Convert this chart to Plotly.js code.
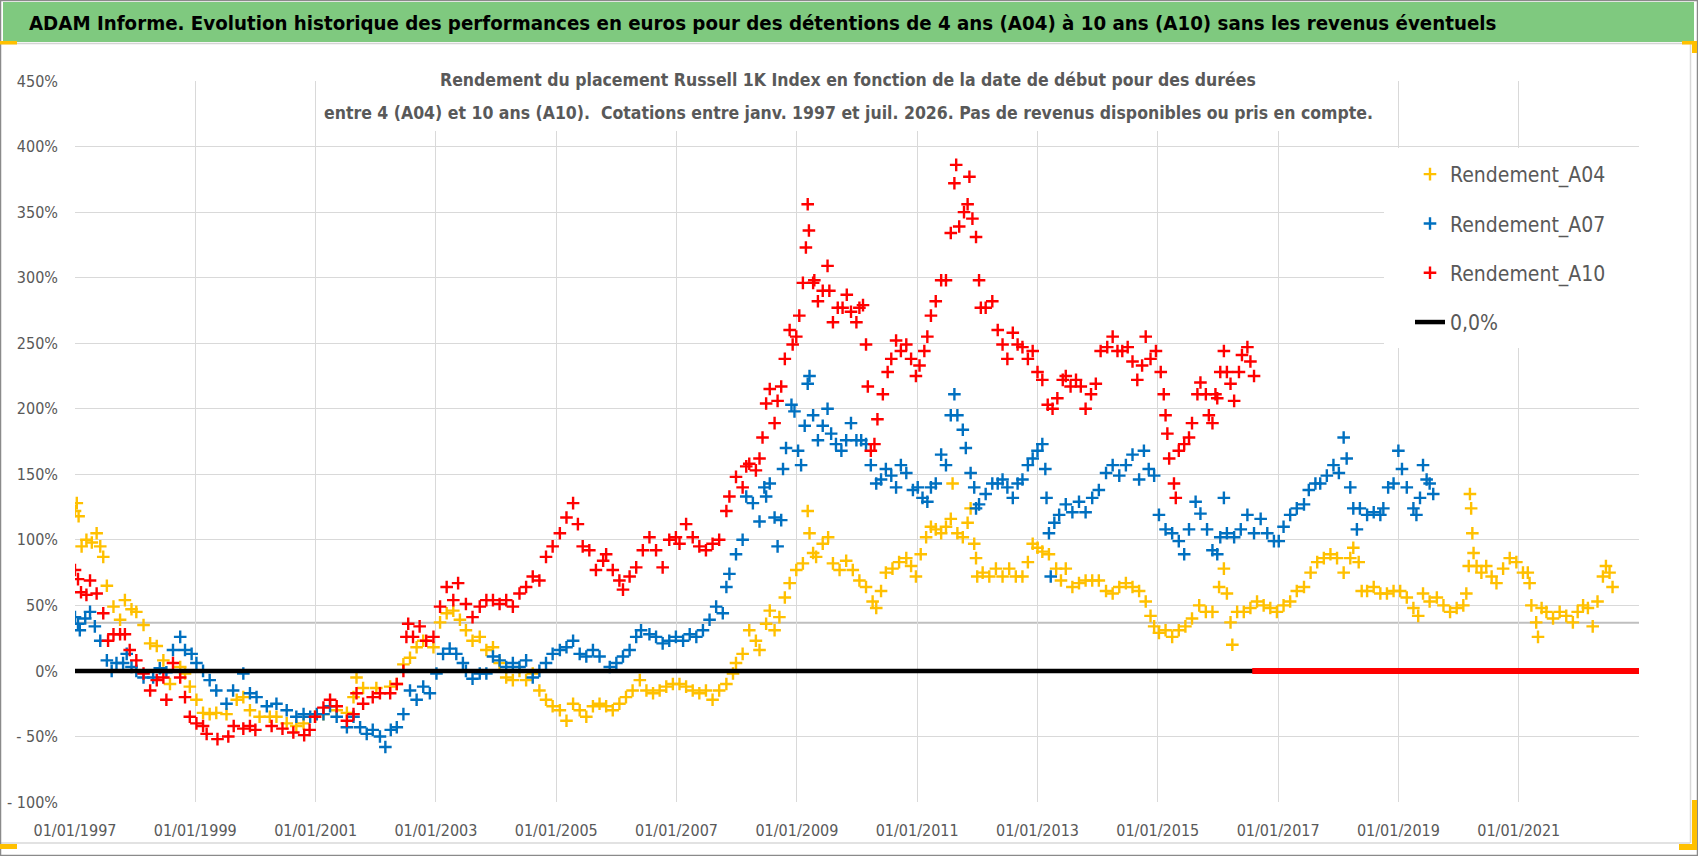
<!DOCTYPE html>
<html>
<head>
<meta charset="utf-8">
<script src="https://cdn.plot.ly/plotly-3.0.1.min.js"></script>
<style>
  html, body { margin: 0; padding: 0; background: #ffffff; }
  #chart { width: 1698px; height: 856px; }
</style>
</head>
<body>
<div id="chart"></div>
<script>
// ---------------- DATA (decimal year, return in %) ----------------
const seriesNames = ['Rendement_A04', 'Rendement_A07', 'Rendement_A10', '0,0%'];

const A04 = [[1997.00,122],[1997.03,128],[1997.06,118],[1997.11,95],[1997.19,100],[1997.28,98],[1997.36,105],[1997.42,95],[1997.47,87],[1997.53,65],[1997.64,49],[1997.75,39],[1997.83,54],[1997.94,47],[1998.02,45],[1998.14,35],[1998.25,21],[1998.36,19],[1998.47,8],[1998.58,-10],[1998.75,3],[1998.83,-2],[1998.91,-12],[1999.02,-22],[1999.13,-32],[1999.24,-33],[1999.35,-32],[1999.52,-33],[1999.69,-22],[1999.80,-20],[1999.91,-30],[2000.07,-35],[2000.24,-35],[2000.35,-35],[2000.52,-40],[2000.68,-42],[2000.80,-40],[2000.99,-35],[2001.13,-33],[2001.35,-30],[2001.52,-32],[2001.63,-20],[2001.68,-5],[2001.79,-13],[2002.01,-13],[2002.24,-12],[2002.35,-10],[2002.46,5],[2002.57,10],[2002.68,18],[2002.79,23],[2002.96,18],[2003.07,37],[2003.18,44],[2003.29,46],[2003.40,39],[2003.50,31],[2003.61,23],[2003.73,26],[2003.84,16],[2003.95,18],[2004.06,6],[2004.17,-5],[2004.28,-7],[2004.39,0],[2004.50,-7],[2004.61,-2],[2004.72,-15],[2004.83,-22],[2004.94,-27],[2005.06,-30],[2005.17,-38],[2005.28,-25],[2005.39,-30],[2005.50,-35],[2005.61,-27],[2005.72,-25],[2005.83,-27],[2005.94,-30],[2006.05,-25],[2006.16,-20],[2006.27,-15],[2006.39,-7],[2006.50,-15],[2006.61,-17],[2006.72,-15],[2006.83,-12],[2006.94,-10],[2007.05,-10],[2007.16,-12],[2007.27,-15],[2007.38,-17],[2007.49,-15],[2007.60,-22],[2007.71,-15],[2007.83,-10],[2007.94,-2],[2007.99,6],[2008.10,13],[2008.21,31],[2008.32,23],[2008.38,16],[2008.49,36],[2008.55,46],[2008.63,31],[2008.71,41],[2008.80,56],[2008.88,67],[2008.99,77],[2009.10,82],[2009.18,122],[2009.21,105],[2009.27,90],[2009.32,87],[2009.43,97],[2009.52,102],[2009.60,82],[2009.71,77],[2009.82,84],[2009.93,77],[2010.04,69],[2010.15,64],[2010.26,53],[2010.32,48],[2010.40,61],[2010.48,75],[2010.59,78],[2010.70,83],[2010.82,86],[2010.90,80],[2010.98,72],[2011.06,89],[2011.15,102],[2011.23,110],[2011.31,108],[2011.40,105],[2011.48,110],[2011.56,116],[2011.59,143],[2011.67,105],[2011.76,102],[2011.84,113],[2011.89,124],[2011.95,97],[2011.98,86],[2012.00,72],[2012.09,75],[2012.20,72],[2012.31,78],[2012.42,72],[2012.53,78],[2012.64,72],[2012.75,72],[2012.84,83],[2012.92,97],[2013.00,94],[2013.08,91],[2013.19,89],[2013.31,78],[2013.39,69],[2013.47,78],[2013.58,64],[2013.69,67],[2013.80,69],[2013.91,69],[2014.02,69],[2014.14,61],[2014.25,59],[2014.36,64],[2014.47,67],[2014.58,64],[2014.69,61],[2014.80,53],[2014.88,42],[2014.94,34],[2015.02,29],[2015.13,31],[2015.24,26],[2015.35,31],[2015.46,34],[2015.57,40],[2015.69,50],[2015.80,45],[2015.91,45],[2016.02,64],[2016.10,78],[2016.15,59],[2016.21,37],[2016.24,20],[2016.32,45],[2016.43,45],[2016.54,48],[2016.65,53],[2016.76,50],[2016.87,48],[2016.98,45],[2017.09,50],[2017.20,53],[2017.31,61],[2017.43,64],[2017.54,75],[2017.65,83],[2017.76,86],[2017.87,89],[2017.98,86],[2018.09,75],[2018.20,86],[2018.25,94],[2018.34,83],[2018.39,61],[2018.48,61],[2018.59,64],[2018.70,59],[2018.81,59],[2018.92,61],[2019.03,61],[2019.14,56],[2019.25,48],[2019.33,42],[2019.41,59],[2019.52,53],[2019.64,56],[2019.75,50],[2019.86,45],[2019.97,48],[2020.08,50],[2020.13,59],[2020.17,80],[2020.19,135],[2020.21,124],[2020.23,105],[2020.25,90],[2020.30,80],[2020.38,75],[2020.46,80],[2020.55,72],[2020.63,67],[2020.74,78],[2020.85,86],[2020.96,83],[2021.07,75],[2021.15,75],[2021.18,67],[2021.21,50],[2021.29,37],[2021.32,26],[2021.38,48],[2021.46,45],[2021.57,40],[2021.68,45],[2021.79,42],[2021.90,37],[2021.98,45],[2022.07,50],[2022.15,48],[2022.23,34],[2022.31,53],[2022.40,72],[2022.45,80],[2022.51,75],[2022.56,64]];

const A07 = [[1997.00,41],[1997.05,36],[1997.08,31],[1997.17,40],[1997.25,45],[1997.33,34],[1997.42,23],[1997.53,8],[1997.61,0],[1997.69,6],[1997.80,6],[1997.86,13],[1997.94,3],[1998.02,0],[1998.14,-5],[1998.30,-5],[1998.41,2],[1998.52,-1],[1998.63,16],[1998.75,26],[1998.83,16],[1998.94,13],[1999.02,6],[1999.13,0],[1999.24,-7],[1999.35,-15],[1999.52,-25],[1999.63,-15],[1999.80,-2],[1999.91,-17],[2000.02,-20],[2000.19,-27],[2000.35,-25],[2000.52,-30],[2000.68,-35],[2000.80,-33],[2000.91,-35],[2001.02,-33],[2001.13,-33],[2001.24,-27],[2001.35,-35],[2001.52,-43],[2001.63,-35],[2001.74,-43],[2001.85,-48],[2001.95,-45],[2002.07,-50],[2002.16,-58],[2002.25,-45],[2002.35,-43],[2002.46,-33],[2002.57,-15],[2002.68,-22],[2002.79,-12],[2002.90,-17],[2003.01,-2],[2003.12,13],[2003.23,17],[2003.34,13],[2003.45,6],[2003.50,0],[2003.61,-6],[2003.73,-2],[2003.84,-2],[2003.95,11],[2004.06,8],[2004.17,3],[2004.28,6],[2004.39,3],[2004.50,8],[2004.61,-5],[2004.72,0],[2004.83,6],[2004.94,13],[2005.06,16],[2005.17,18],[2005.28,23],[2005.39,13],[2005.50,11],[2005.61,16],[2005.72,11],[2005.89,3],[2006.00,6],[2006.11,11],[2006.22,16],[2006.33,26],[2006.41,31],[2006.55,28],[2006.66,26],[2006.77,21],[2006.88,23],[2006.99,26],[2007.11,23],[2007.22,28],[2007.33,26],[2007.44,31],[2007.55,39],[2007.66,49],[2007.77,44],[2007.83,64],[2007.88,74],[2007.99,89],[2008.10,100],[2008.16,133],[2008.27,128],[2008.38,114],[2008.46,140],[2008.49,133],[2008.55,143],[2008.63,117],[2008.68,95],[2008.74,115],[2008.77,154],[2008.82,170],[2008.91,203],[2008.96,198],[2009.02,168],[2009.07,157],[2009.13,187],[2009.18,219],[2009.21,225],[2009.27,195],[2009.35,176],[2009.43,187],[2009.51,200],[2009.57,181],[2009.65,173],[2009.74,168],[2009.82,176],[2009.90,189],[2009.99,176],[2010.07,176],[2010.15,173],[2010.23,157],[2010.32,143],[2010.40,146],[2010.48,154],[2010.57,149],[2010.65,140],[2010.73,157],[2010.82,151],[2010.93,138],[2011.01,140],[2011.09,132],[2011.17,129],[2011.23,140],[2011.31,143],[2011.40,165],[2011.48,157],[2011.56,195],[2011.62,211],[2011.67,195],[2011.76,184],[2011.81,170],[2011.89,151],[2011.95,140],[2011.98,124],[2012.03,127],[2012.14,135],[2012.25,143],[2012.34,143],[2012.42,146],[2012.50,140],[2012.59,132],[2012.67,143],[2012.75,146],[2012.84,157],[2012.92,162],[2013.00,168],[2013.08,173],[2013.13,154],[2013.15,132],[2013.19,105],[2013.22,72],[2013.28,113],[2013.36,119],[2013.47,127],[2013.58,121],[2013.69,129],[2013.80,121],[2013.91,132],[2014.02,138],[2014.14,151],[2014.25,157],[2014.36,149],[2014.47,157],[2014.58,165],[2014.69,146],[2014.77,168],[2014.85,154],[2014.94,149],[2015.02,119],[2015.13,108],[2015.24,105],[2015.35,99],[2015.44,89],[2015.52,108],[2015.63,129],[2015.71,120],[2015.82,108],[2015.91,92],[2015.99,89],[2016.04,102],[2016.10,132],[2016.15,105],[2016.27,102],[2016.38,108],[2016.49,119],[2016.60,105],[2016.71,116],[2016.82,105],[2016.93,99],[2017.01,99],[2017.09,110],[2017.20,119],[2017.31,124],[2017.43,127],[2017.51,138],[2017.62,143],[2017.70,143],[2017.81,149],[2017.92,157],[2018.01,151],[2018.09,178],[2018.14,162],[2018.20,140],[2018.25,124],[2018.31,108],[2018.36,124],[2018.48,119],[2018.59,121],[2018.70,119],[2018.75,124],[2018.83,140],[2018.92,143],[2019.00,168],[2019.06,154],[2019.14,140],[2019.25,124],[2019.30,119],[2019.36,132],[2019.41,157],[2019.47,146],[2019.52,143],[2019.58,135]];

const A10 = [[1997.00,77],[1997.05,70],[1997.10,60],[1997.19,58],[1997.25,69],[1997.36,59],[1997.47,44],[1997.55,23],[1997.64,28],[1997.75,28],[1997.83,28],[1997.91,16],[1998.02,8],[1998.14,-2],[1998.25,-15],[1998.36,-7],[1998.47,-5],[1998.52,-22],[1998.63,6],[1998.75,-5],[1998.83,-20],[1998.91,-35],[1999.02,-40],[1999.13,-42],[1999.19,-48],[1999.37,-52],[1999.55,-50],[1999.64,-42],[1999.80,-44],[1999.91,-42],[2000.00,-45],[2000.27,-42],[2000.45,-44],[2000.63,-47],[2000.81,-49],[2000.90,-45],[2000.99,-35],[2001.13,-28],[2001.24,-22],[2001.35,-27],[2001.52,-38],[2001.63,-33],[2001.68,-17],[2001.79,-25],[2001.95,-20],[2002.07,-17],[2002.24,-17],[2002.35,-10],[2002.46,0],[2002.51,26],[2002.54,36],[2002.62,26],[2002.73,34],[2002.84,23],[2002.96,26],[2003.07,49],[2003.18,64],[2003.29,54],[2003.37,67],[2003.50,51],[2003.61,41],[2003.73,49],[2003.84,54],[2003.95,54],[2004.06,51],[2004.17,54],[2004.28,49],[2004.39,59],[2004.50,64],[2004.61,72],[2004.72,69],[2004.83,87],[2004.94,95],[2005.06,105],[2005.17,117],[2005.28,128],[2005.36,112],[2005.44,95],[2005.55,92],[2005.66,77],[2005.78,84],[2005.83,89],[2005.94,77],[2006.05,69],[2006.11,62],[2006.22,72],[2006.33,79],[2006.44,92],[2006.55,102],[2006.66,92],[2006.77,79],[2006.88,100],[2006.99,102],[2007.05,97],[2007.16,112],[2007.27,102],[2007.38,95],[2007.49,92],[2007.60,97],[2007.71,100],[2007.83,122],[2007.88,133],[2007.99,148],[2008.10,140],[2008.16,156],[2008.21,158],[2008.32,153],[2008.38,162],[2008.43,178],[2008.49,204],[2008.55,215],[2008.63,189],[2008.68,206],[2008.74,217],[2008.80,238],[2008.88,260],[2008.93,249],[2008.99,255],[2009.04,271],[2009.10,296],[2009.15,323],[2009.18,356],[2009.20,336],[2009.27,296],[2009.29,298],[2009.35,282],[2009.43,290],[2009.51,309],[2009.54,290],[2009.60,266],[2009.68,277],[2009.76,277],[2009.83,287],[2009.90,274],[2009.99,266],[2010.04,277],[2010.10,279],[2010.15,249],[2010.18,217],[2010.23,168],[2010.29,173],[2010.34,192],[2010.43,211],[2010.51,228],[2010.57,238],[2010.65,252],[2010.73,244],[2010.82,249],[2010.90,238],[2010.98,225],[2011.04,233],[2011.12,244],[2011.17,255],[2011.23,271],[2011.31,282],[2011.40,298],[2011.48,298],[2011.56,334],[2011.62,372],[2011.65,386],[2011.70,339],[2011.78,350],[2011.84,356],[2011.87,377],[2011.92,345],[2011.98,331],[2012.03,298],[2012.06,277],[2012.14,277],[2012.25,282],[2012.34,260],[2012.42,249],[2012.50,238],[2012.59,258],[2012.67,249],[2012.75,247],[2012.84,238],[2012.92,244],[2013.00,228],[2013.08,222],[2013.17,203],[2013.25,200],[2013.33,208],[2013.42,222],[2013.47,225],[2013.55,217],[2013.64,222],[2013.72,217],[2013.80,200],[2013.89,211],[2013.97,219],[2014.05,244],[2014.16,247],[2014.25,255],[2014.33,244],[2014.41,244],[2014.50,247],[2014.58,236],[2014.66,222],[2014.74,233],[2014.80,255],[2014.88,238],[2014.97,244],[2015.05,228],[2015.10,211],[2015.13,195],[2015.16,181],[2015.19,162],[2015.27,143],[2015.30,132],[2015.35,168],[2015.44,173],[2015.52,178],[2015.57,189],[2015.66,211],[2015.71,220],[2015.80,211],[2015.85,195],[2015.91,189],[2015.96,211],[2015.99,208],[2016.04,228],[2016.10,244],[2016.15,228],[2016.21,219],[2016.27,206],[2016.35,228],[2016.40,241],[2016.49,247],[2016.54,236],[2016.60,225]];

// flat segments (decimal years, value 0 %)
const zeroLineYears = [1997.0, 2023.0];
const a10ZeroYears  = [2016.57, 2023.0];
const refLineValue  = 36.7;   // grey horizontal line

// axis labels
const xTickYears  = [1997, 1999, 2001, 2003, 2005, 2007, 2009, 2011, 2013, 2015, 2017, 2019, 2021];
const xTickLabels = ['01/01/1997','01/01/1999','01/01/2001','01/01/2003','01/01/2005','01/01/2007','01/01/2009','01/01/2011','01/01/2013','01/01/2015','01/01/2017','01/01/2019','01/01/2021'];
const yTickValues = [-100, -50, 0, 50, 100, 150, 200, 250, 300, 350, 400, 450];
const yTickLabels = ['- 100%','- 50%','0%','50%','100%','150%','200%','250%','300%','350%','400%','450%'];

const headerText = 'ADAM Informe. Evolution historique des performances en euros pour des détentions de 4 ans (A04) à 10 ans (A10) sans les revenus éventuels';
const titleLine1 = 'Rendement du placement Russell 1K Index en fonction de la date de début pour des durées';
const titleLine2 = 'entre 4 (A04) et 10 ans (A10).\u00A0 Cotations entre janv. 1997 et juil. 2026. Pas de revenus disponibles ou pris en compte.';

// ---------------- helpers ----------------
function yearToDate(y) {
  const yr = Math.floor(y);
  const s = Date.UTC(yr, 0, 1), e = Date.UTC(yr + 1, 0, 1);
  return new Date(s + (y - yr) * (e - s)).toISOString().slice(0, 19).replace('T', ' ');
}
const W = 1698, H = 856;
const PL = 75, PR = 1639, PT = 81, PB = 802;
const X = px => (px - PL) / (PR - PL);
const Y = py => (PB - py) / (PB - PT);

const FONT = "'Liberation Sans Narrow', 'Arial Narrow', 'DejaVu Sans Condensed', sans-serif";
const GREY_TXT = '#595959';
const colors = { a04: '#FFC000', a07: '#0070C0', a10: '#FF0000' };

function markerTrace(data, name, color) {
  return {
    type: 'scatter', mode: 'markers', name: name, legendgroup: name,
    x: data.map(d => yearToDate(d[0])), y: data.map(d => d[1]),
    marker: { symbol: 'cross-thin', size: 9, color: color, line: { color: color, width: 2.4 } },
    hoverinfo: 'skip'
  };
}

const traces = [
  markerTrace(A04, seriesNames[0], colors.a04),
  markerTrace(A07, seriesNames[1], colors.a07),
  markerTrace(A10, seriesNames[2], colors.a10),
  { type: 'scatter', mode: 'lines', name: seriesNames[3], legendgroup: seriesNames[3],
    x: zeroLineYears.map(yearToDate), y: zeroLineYears.map(() => 0),
    line: { color: '#000000', width: 4.5 }, hoverinfo: 'skip' },
  { type: 'scatter', mode: 'lines', name: 'A10 zero', showlegend: false, legendgroup: 'z',
    x: a10ZeroYears.map(yearToDate), y: a10ZeroYears.map(() => 0),
    line: { color: colors.a10, width: 6 }, hoverinfo: 'skip' }
];

function rectPx(x0, y0, x1, y1, fill, line, layer) {
  return { type: 'rect', xref: 'paper', yref: 'paper', x0: X(x0), x1: X(x1), y0: Y(y0), y1: Y(y1),
    fillcolor: fill || 'rgba(0,0,0,0)', line: line || { width: 0 }, layer: layer || 'above' };
}
function linePx(x0, y0, x1, y1, color, width) {
  return { type: 'line', xref: 'paper', yref: 'paper', x0: X(x0), x1: X(x1), y0: Y(y0), y1: Y(y1),
    line: { color: color, width: width }, layer: 'above' };
}

const shapes = [
  { type: 'line', xref: 'paper', yref: 'y', x0: 0, x1: 1, y0: refLineValue, y1: refLineValue,
    line: { color: '#bfbfbf', width: 2 }, layer: 'below' },
  rectPx(1384, 148, 1639, 348, '#ffffff'),
  rectPx(318, 62, 1376, 131, '#ffffff'),
  rectPx(3, 2, 1694, 42, '#7fc97f'),
  linePx(0, 43.5, 1692, 43.5, '#d4d4d4', 1.5),
  linePx(1690.5, 43, 1690.5, 843, '#d9d9d9', 1.5),
  linePx(0, 843, 1690, 843, '#d9d9d9', 1.5),
  rectPx(0.5, 0.5, 1697.5, 855.5, null, { color: '#8a8a8a', width: 1.5 }),
  rectPx(0, 41, 17, 44.5, '#FFC000'),
  rectPx(0, 844, 17, 849, '#FFC000'),
  rectPx(1682, 41, 1697, 44.5, '#FFC000'),
  rectPx(1692, 41, 1697, 53, '#FFC000'),
  rectPx(1692, 800, 1697, 850, '#FFC000'),
  rectPx(1679, 844, 1697, 850, '#FFC000')
];

const annotations = [
  { xref: 'paper', yref: 'paper', x: X(27), y: Y(23), xanchor: 'left', yanchor: 'middle',
    text: headerText, showarrow: false,
    font: { family: FONT, size: 20.3, color: '#000000', weight: 'bold' } },
  { xref: 'paper', yref: 'paper', x: X(848), y: Y(80), xanchor: 'center', yanchor: 'middle',
    text: titleLine1, showarrow: false,
    font: { family: FONT, size: 17.5, color: GREY_TXT, weight: 'bold' } },
  { xref: 'paper', yref: 'paper', x: X(848), y: Y(113), xanchor: 'center', yanchor: 'middle',
    text: titleLine2, showarrow: false,
    font: { family: FONT, size: 17.5, color: GREY_TXT, weight: 'bold' } }
];

const layout = {
  width: W, height: H,
  margin: { l: PL, r: W - PR, t: PT, b: H - PB, pad: 0 },
  paper_bgcolor: '#ffffff', plot_bgcolor: '#ffffff',
  font: { family: FONT, color: GREY_TXT },
  showlegend: true,
  legend: {
    x: X(1410), y: Y(154), xanchor: 'left', yanchor: 'top',
    bgcolor: 'rgba(0,0,0,0)', borderwidth: 0,
    font: { family: FONT, size: 21, color: GREY_TXT },
    tracegroupgap: 19, itemwidth: 30, traceorder: 'grouped'
  },
  xaxis: {
    type: 'date', range: [yearToDate(1997.0), yearToDate(2023.0)],
    tickvals: xTickYears.map(yearToDate), ticktext: xTickLabels,
    showgrid: true, gridcolor: '#d9d9d9', gridwidth: 1,
    zeroline: false, showline: false, ticks: '',
    tickfont: { family: FONT, size: 16, color: GREY_TXT },
    ticklabelstandoff: 17, fixedrange: true
  },
  yaxis: {
    range: [-100, 450],
    tickvals: yTickValues, ticktext: yTickLabels,
    showgrid: true, gridcolor: '#d9d9d9', gridwidth: 1,
    zeroline: false, showline: false, ticks: '',
    tickfont: { family: FONT, size: 16, color: GREY_TXT },
    ticklabelstandoff: 16, fixedrange: true
  },
  shapes: shapes,
  annotations: annotations
};

Plotly.newPlot('chart', traces, layout, { staticPlot: true, displayModeBar: false });
</script>
</body>
</html>
